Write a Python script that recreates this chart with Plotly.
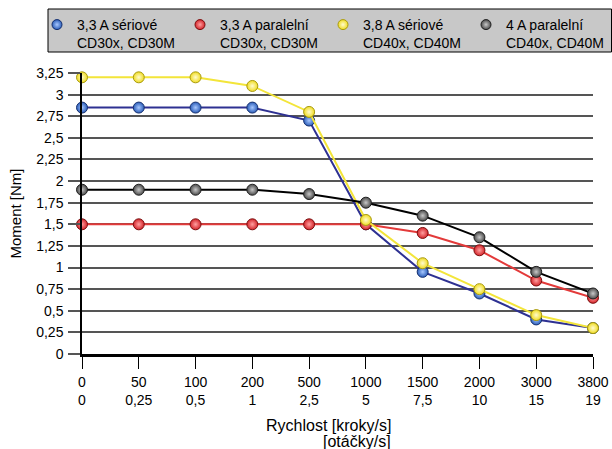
import plotly.graph_objects as go

speeds_steps = ["0", "50", "100", "200", "500", "1000", "1500", "2000", "3000", "3800"]
speeds_rev = ["0", "0,25", "0,5", "1", "2,5", "5", "7,5", "10", "15", "19"]

s1_name = "3,3 A sériové<br>CD30x, CD30M"
s1_vals = [2.85, 2.85, 2.85, 2.85, 2.70, 1.50, 0.95, 0.70, 0.40, 0.30]
s2_name = "3,3 A paralelní<br>CD30x, CD30M"
s2_vals = [1.50, 1.50, 1.50, 1.50, 1.50, 1.50, 1.40, 1.20, 0.85, 0.65]
s3_name = "3,8 A sériové<br>CD40x, CD40M"
s3_vals = [3.20, 3.20, 3.20, 3.10, 2.80, 1.55, 1.05, 0.75, 0.45, 0.30]
s4_name = "4 A paralelní<br>CD40x, CD40M"
s4_vals = [1.90, 1.90, 1.90, 1.90, 1.85, 1.75, 1.60, 1.35, 0.95, 0.70]

y_ticks = [0, 0.25, 0.5, 0.75, 1, 1.25, 1.5, 1.75, 2, 2.25, 2.5, 2.75, 3, 3.25]
y_tick_text = ["0", "0,25", "0,5", "0,75", "1", "1,25", "1,5", "1,75", "2", "2,25", "2,5", "2,75", "3", "3,25"]

x_title_1 = "Rychlost [kroky/s]"
x_title_2 = "[otáčky/s]"
y_title = "Moment [Nm]"

x_idx = list(range(len(speeds_steps)))
x_labels = [f"{a}<br>{b}" for a, b in zip(speeds_steps, speeds_rev)]

series = [
    (s1_name, s1_vals, "#2e3192", "#2a5cb8", "#a8c8ff", "#16306e"),
    (s2_name, s2_vals, "#e33a3a", "#d4242a", "#ffa0a0", "#7a1010"),
    (s3_name, s3_vals, "#f3e53a", "#f0dc20", "#fffbd0", "#a89a10"),
    (s4_name, s4_vals, "#000000", "#4a4a4a", "#c8c8c8", "#202020"),
]

FONT = "Liberation Sans, Arial, sans-serif"
fig = go.Figure()

for name, vals, lc, mc, gc, ec in series:
    fig.add_trace(go.Scatter(
        x=x_idx, y=vals, mode="lines+markers", name=name, showlegend=False,
        line=dict(color=lc, width=2),
        marker=dict(size=11, color=mc, line=dict(color=ec, width=1),
                    gradient=dict(type="radial", color=gc)),
        cliponaxis=False,
    ))

for name, vals, lc, mc, gc, ec in series:
    fig.add_trace(go.Scatter(
        x=[None], y=[None], mode="markers", name=name, showlegend=True,
        marker=dict(size=10, color=mc, line=dict(color=ec, width=1),
                    gradient=dict(type="radial", color=gc)),
    ))

L, R, T, B = 82, 593, 73, 354
PW, PH = R - L, B - T


def px(xp):
    return (xp - L) / PW


def py(yp):
    return (B - yp) / PH


fig.update_layout(
    width=612, height=449,
    margin=dict(l=L, r=612 - R, t=T, b=449 - B, autoexpand=False),
    paper_bgcolor="white", plot_bgcolor="white",
    font=dict(family=FONT, size=14, color="black"),
    showlegend=True,
    legend=dict(
        orientation="h", x=px(37), y=py(9), xanchor="left", yanchor="top",
        bgcolor="rgba(0,0,0,0)", borderwidth=0,
        entrywidth=98, entrywidthmode="pixels", itemwidth=30,
        valign="top", font=dict(family=FONT, size=14, color="black"),
        traceorder="normal",
    ),
    shapes=[
        dict(type="rect", xref="paper", yref="paper",
             x0=px(48), x1=px(611.5), y0=py(52), y1=py(9),
             fillcolor="#c8c8c8", line=dict(color="black", width=1), layer="below"),
    ],
    xaxis=dict(
        range=[0, 9], tickmode="array", tickvals=x_idx, ticktext=x_labels,
        showgrid=False, zeroline=False, automargin=False,
        showline=True, linecolor="black", linewidth=2.5,
        ticks="outside", ticklen=12, tickwidth=1, tickcolor="black",
        ticklabelstandoff=1,
        tickfont=dict(family=FONT, size=14),
    ),
    yaxis=dict(
        range=[0, 3.25], tickmode="array", tickvals=y_ticks, ticktext=y_tick_text,
        showgrid=True, gridcolor="#555555", gridwidth=1.5, zeroline=False,
        showline=True, linecolor="black", linewidth=1.5, automargin=False,
        ticks="outside", ticklen=12, tickwidth=1.5, tickcolor="#555555",
        ticklabelstandoff=2,
        tickfont=dict(family=FONT, size=14),
        title=dict(text=y_title, font=dict(family=FONT, size=15), standoff=11),
    ),
    annotations=[
        dict(text=x_title_1, xref="paper", yref="paper", x=px(393), y=0,
             xanchor="right", yanchor="middle", yshift=-(425 - B), showarrow=False,
             font=dict(family=FONT, size=16)),
        dict(text=x_title_2, xref="paper", yref="paper", x=px(393), y=0,
             xanchor="right", yanchor="middle", yshift=-(441 - B), showarrow=False,
             font=dict(family=FONT, size=16)),
    ],
)

fig.write_html("out.html", config={"displayModeBar": False},
               post_script="document.body.style.margin='0';")
